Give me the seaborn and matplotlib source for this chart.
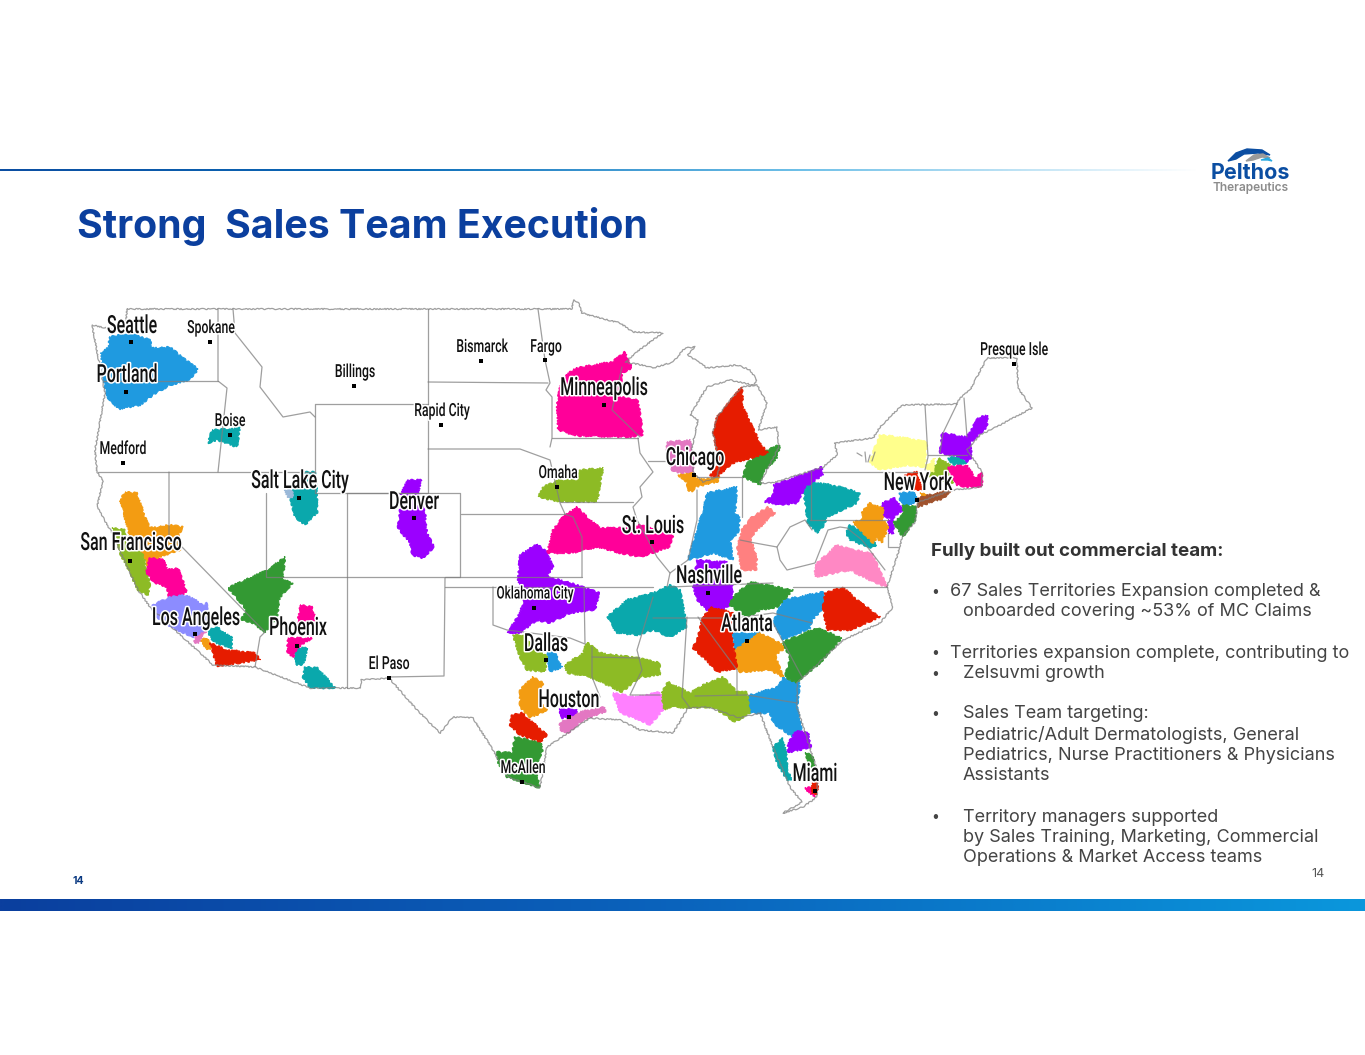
import numpy as np
import matplotlib.pyplot as plt
import matplotlib.patheffects as pe
from matplotlib.colors import LinearSegmentedColormap
from matplotlib.transforms import Affine2D
import pandas as pd
import seaborn as sns

sns.set_theme(style="white")
plt.rcParams['font.family'] = ['Inter', 'DejaVu Sans']

# CITIES
# =================================================================
city_names = ["Seattle", "Spokane", "Portland", "Medford", "Boise", "Billings", "Bismarck", "Fargo",
              "Rapid City", "Presque Isle", "Minneapolis", "Salt Lake City", "Denver", "Omaha", "Chicago",
              "San Francisco", "St. Louis", "New York", "Nashville", "Oklahoma City", "Los Angeles",
              "Phoenix", "Atlanta", "Dallas", "El Paso", "Houston", "McAllen", "Miami"]
city_x = [131, 210, 126, 123, 230, 354, 481, 545, 441, 1014, 604, 299, 414, 557, 694, 130, 652, 917, 708,
          534, 195, 297, 747, 546, 389, 569, 522, 815]
city_y = [342, 342, 392, 463, 435, 386, 361, 360, 425, 364, 405, 498, 518, 487, 475, 561, 542, 500, 593,
          608, 634, 646, 641, 660, 678, 717, 782, 791]
label_x = [132, 211, 127, 123, 230, 355, 482, 546, 442, 1014, 604, 300, 414, 558, 695, 131, 653, 918, 709,
           535, 196, 298, 747, 546, 389, 569, 523, 815]
label_y = [326, 328, 375, 449, 421, 372, 347, 347, 411, 350, 388, 481, 502, 473, 458, 543, 526, 483, 576,
           594, 618, 628, 624, 644, 664, 700, 768, 774]
big_cities = ["Seattle", "Portland", "Minneapolis", "Salt Lake City", "Denver", "Chicago", "San Francisco",
              "St. Louis", "New York", "Nashville", "Los Angeles", "Phoenix", "Atlanta", "Dallas",
              "Houston", "Miami"]

# TERRITORIES (outlines)
# =================================================================
portland = [(109,337),(130,333),(150,340),(152,348),(170,347),(183,358),(198,369),(190,380),(170,385),(153,395),(140,405),(120,409),(108,400),(104,383),(101,353),(109,347)]
boise = [(212,430),(240,428),(237,447),(217,440),(208,443)]
slc = [(303,472),(315,472),(317,493),(317,513),(305,525),(295,517),(290,497)]
slc_west = [(285,490),(292,490),(293,498),(288,498)]
denver = [(408,480),(422,480),(418,493),(425,513),(427,533),(434,547),(423,558),(412,555),(410,543),(398,528),(400,510),(407,493),(400,495)]
sacramento = [(125,492),(137,493),(145,517),(150,528),(170,525),(183,527),(177,538),(180,550),(160,557),(148,567),(142,553),(130,537),(120,500)]
san_francisco = [(112,528),(125,530),(128,543),(143,555),(150,583),(148,595),(138,590),(130,573),(120,553),(117,538)]
fresno = [(150,558),(165,560),(167,570),(178,568),(187,592),(170,602),(167,587),(153,582),(146,572)]
los_angeles = [(170,597),(187,595),(203,605),(207,603),(208,628),(193,637),(173,628),(153,615),(153,605)]
la_south = [(197,632),(207,630),(198,643),(194,642)]
orange_county = [(200,640),(207,638),(212,648),(208,650)]
inland_empire = [(207,630),(217,627),(232,638),(232,648),(213,642)]
san_diego = [(210,643),(227,650),(255,653),(260,660),(217,666),(213,653)]
las_vegas = [(285,557),(283,580),(293,583),(280,597),(277,618),(265,632),(253,623),(240,620),(247,610),(228,588),(245,580),(267,570)]
phoenix_north = [(300,605),(312,607),(317,622),(298,622)]
phoenix_south = [(288,638),(312,638),(297,648),(293,657),(287,653)]
phoenix_east = [(293,648),(308,648),(303,665),(297,665)]
tucson = [(305,667),(318,668),(335,688),(310,688),(303,677)]
minneapolis = [(577,368),(593,365),(612,362),(625,352),(632,368),(622,373),(620,397),(638,400),(643,435),(627,437),(578,436),(558,430),(557,405),(560,387),(568,373)]
omaha = [(580,470),(603,468),(597,502),(557,501),(538,497),(543,487),(560,480),(578,480)]
st_louis = [(577,507),(587,517),(600,528),(623,528),(640,525),(673,535),(670,547),(640,557),(620,553),(597,547),(573,553),(547,553),(553,530),(563,517)]
oklahoma = [(537,544),(548,553),(553,567),(547,577),(568,582),(597,592),(599,593),(595,610),(570,613),(550,623),(537,620),(520,633),(507,633),(520,613),(525,597),(518,580),(520,555)]
chicago_north = [(667,442),(690,440),(693,457),(693,472),(680,473),(672,470),(667,457)]
chicago_south = [(678,475),(693,472),(698,480),(720,477),(717,482),(695,487),(692,492),(688,490),(687,482)]
michigan = [(742,387),(743,407),(760,443),(768,453),(733,463),(717,477),(710,475),(720,463),(713,433),(717,417),(733,397)]
detroit = [(773,447),(780,445),(777,458),(763,472),(760,485),(743,477),(747,463),(760,455)]
indiana = [(707,493),(737,487),(735,513),(740,517),(738,533),(730,540),(733,560),(713,553),(688,560),(697,530),(703,510)]
cincinnati = [(768,507),(775,513),(760,527),(750,538),(757,557),(756,570),(742,570),(737,547),(742,530),(752,517)]
nashville = [(697,560),(727,562),(733,588),(732,603),(720,612),(707,610),(697,600),(693,587)]
memphis = [(607,617),(627,600),(653,593),(670,585),(680,590),(687,627),(670,637),(653,630),(637,635),(617,633)]
knoxville = [(733,597),(750,582),(777,587),(793,590),(777,607),(760,610),(747,618),(730,605)]
upstate = [(783,600),(823,592),(825,607),(812,620),(810,628),(783,640),(773,623)]
carolina_north = [(825,593),(843,587),(857,600),(880,617),(850,630),(827,630),(823,607)]
carolina_south = [(783,642),(817,628),(842,638),(820,663),(803,677),(797,683),(785,677),(790,658)]
atlanta_west = [(703,617),(712,607),(733,613),(732,637),(737,668),(717,672),(703,657),(693,648),(698,637)]
atlanta_city = [(732,633),(760,633),(735,650)]
atlanta_east = [(735,650),(760,633),(787,647),(775,655),(783,677),(770,670),(740,672),(735,663)]
dallas_west = [(513,635),(522,635),(547,657),(545,672),(527,670),(520,657)]
dallas_east = [(547,652),(555,653),(562,667),(550,672)]
shreveport = [(565,665),(583,653),(587,642),(600,653),(638,658),(660,663),(660,675),(640,677),(622,692),(590,677),(567,673)]
austin = [(533,677),(543,683),(540,702),(547,710),(530,718),(520,707),(520,690)]
san_antonio = [(512,715),(522,713),(547,735),(540,742),(520,735),(510,725)]
mcallen = [(515,737),(540,742),(543,750),(535,767),(540,788),(507,777),(498,763),(497,752),(512,753)]
houston = [(559,709),(577,709),(577,717),(562,718)]
houston_coast = [(560,723),(580,712),(605,707),(605,712),(583,720),(568,733),(560,730)]
louisiana = [(613,693),(637,697),(660,692),(663,710),(650,725),(640,720),(620,713)]
gulf = [(662,692),(668,682),(690,693),(707,683),(723,677),(737,692),(747,692),(750,713),(735,722),(713,707),(690,708),(673,707),(662,710)]
jacksonville = [(745,705),(750,695),(778,687),(783,678),(800,683),(797,707),(802,730),(793,737),(773,723),(770,713),(750,713)]
orlando = [(788,743),(797,730),(808,733),(811,747),(788,753)]
tampa = [(773,747),(783,738),(787,757),(787,770),(792,780),(787,780),(777,763)]
palm_beach = [(805,753),(812,755),(817,773),(813,773)]
miami_north = [(812,783),(818,783),(817,795),(812,793)]
miami_south = [(805,788),(813,787),(815,797),(810,793)]
ohio = [(773,485),(810,472),(822,467),(823,475),(805,487),(797,503),(780,505),(765,502),(775,493)]
pittsburgh = [(803,487),(810,481),(840,487),(860,493),(857,503),(827,517),(823,527),(817,533),(808,523)]
upstate_ny = [(880,435),(900,437),(927,442),(925,467),(907,465),(880,470),(870,463),(875,447)]
new_hampshire = [(942,433),(967,437),(978,418),(988,415),(987,427),(970,443),(972,457),(967,462),(960,457),(940,453)]
boston_north = [(948,458),(960,456),(967,463),(953,465)]
hartford = [(933,470),(940,458),(950,465),(948,473),(953,483),(927,477)]
albany = [(925,468),(935,458),(933,472)]
boston = [(948,467),(967,465),(975,478),(982,473),(982,487),(967,487),(957,485)]
hudson = [(905,475),(917,472),(922,490),(913,490)]
north_jersey = [(900,493),(915,492),(917,500),(907,507),(900,500)]
long_island = [(918,498),(952,489),(944,498),(918,507)]
westchester = [(920,493),(927,495),(922,498)]
allentown = [(882,503),(895,498),(903,510),(893,518),(883,517)]
wilmington = [(888,520),(893,520),(894,534),(889,533)]
south_jersey = [(903,505),(917,507),(915,520),(903,537),(893,523),(903,515)]
baltimore = [(862,512),(870,503),(883,508),(883,520),(888,527),(882,543),(877,538),(873,543),(853,522),(862,520)]
washington = [(850,525),(865,533),(877,545),(872,548),(850,540),(846,533)]
virginia = [(815,565),(837,545),(853,550),(872,553),(887,587),(873,582),(850,570),(815,577)]

blue = "#1f9ae0"
teal = "#0aa8ac"
purple = "#9b00ff"
orange = "#f39c12"
lime = "#8dbb25"
pink = "#ff0099"
green = "#339933"
red = "#e61c00"
orchid = "#e377c2"
territory_groups = [
    (blue, [portland, indiana, upstate, jacksonville, north_jersey, atlanta_city, dallas_east]),
    (teal, [boise, slc, inland_empire, phoenix_east, tucson, memphis, pittsburgh, washington, tampa, boston_north]),
    (purple, [denver, oklahoma, nashville, houston, orlando, ohio, new_hampshire, allentown, wilmington]),
    (orange, [sacramento, orange_county, chicago_south, atlanta_east, austin, baltimore, westchester]),
    (lime, [san_francisco, omaha, dallas_west, shreveport, gulf, hartford]),
    (pink, [fresno, phoenix_north, phoenix_south, minneapolis, st_louis, boston, miami_south]),
    (green, [las_vegas, detroit, knoxville, carolina_south, mcallen, south_jersey, palm_beach]),
    (red, [san_diego, michigan, carolina_north, atlanta_west, san_antonio, hudson, miami_north]),
    (orchid, [la_south, chicago_north, houston_coast]),
    ("#8c8cff", [los_angeles]),
    ("#ff8080", [cincinnati]),
    ("#ff80ff", [louisiana]),
    ("#ff88c4", [virginia]),
    ("#ffff8c", [upstate_ny, albany]),
    ("#a0522d", [long_island]),
    ("#9ab8d8", [slc_west]),
]

# MAP LINES
# =================================================================
national_border = [(127,309),(428,309),(572,309),(573,300),(578,302),(582,313),(600,318),(620,323),(633,332),(663,333),(643,347),(625,362),(642,365),(653,368),(673,362),(685,348),(695,347),(688,355),(707,368),(737,365),(750,370),(757,380),(753,385),(730,380),(707,387),(690,415),(698,420),(692,447),(693,472),(703,482),(717,477),(720,463),(713,433),(717,417),(733,397),(742,387),(757,385),(767,403),(758,430),(777,427),(779,447),(760,483),(773,483),(823,467),(837,455),(835,443),(873,438),(880,427),(902,405),(957,404),(960,398),(970,390),(987,358),(1017,358),(1018,388),(1032,408),(1000,425),(980,435),(967,450),(982,472),(982,487),(953,490),(918,502),(915,522),(902,537),(900,547),(887,587),(893,607),(880,623),(843,640),(797,683),(797,707),(817,770),(817,797),(803,807),(783,813),(802,802),(790,787),(773,747),(760,713),(740,718),(707,707),(688,708),(673,733),(640,730),(620,720),(590,718),(547,747),(540,788),(508,777),(493,750),(473,718),(453,717),(440,733),(417,710),(389,678),(361,680),(361,688),(310,688),(255,667),(213,665),(150,607),(138,590),(112,533),(97,507),(103,480),(97,472),(95,450),(105,393),(92,325),(125,332),(127,309)]
west_lines = [
    [(104,381),(218,381)], [(218,309),(218,381),(227,388),(218,472)],
    [(233,309),(235,333),(262,367),(260,387),(283,417),(310,412),(315,417)],
    [(315,404),(428,404),(428,493),(315,493),(315,404)], [(428,309),(428,404)],
    [(98,472),(315,472)], [(169,472),(169,535),(183,548),(265,632),(260,637),(255,667)],
    [(266,493),(266,577),(347,577)], [(347,493),(347,688)],
    [(347,493),(460,493),(460,577),(347,577)], [(445,578),(444,676),(389,677)],
]
plains_lines = [
    [(445,587),(653,587)], [(445,577),(582,577)], [(461,514),(565,514)],
    [(428,449),(520,449),(550,460),(560,503),(565,514)], [(428,382),(548,383)],
    [(538,309),(545,360),(550,383),(546,390),(552,397),(552,438),(550,447)],
    [(552,438),(638,438)], [(622,367),(612,410),(640,437)],
    [(638,438),(640,453),(653,472),(640,487),(642,497),(633,507),(637,520),(647,538),(657,557),(670,573),(667,587)],
    [(560,502),(633,502)], [(648,461),(692,461)], [(565,514),(573,517),(582,537),(582,577)],
    [(493,587),(493,625),(507,630),(570,638),(585,644),(584,587)],
]
east_lines = [
    [(697,490),(697,520),(688,560),(670,573)], [(742,477),(742,517)], [(697,477),(742,477)],
    [(670,587),(773,583)], [(793,587),(887,587)], [(592,647),(592,677),(600,697)], [(592,657),(640,658)],
    [(653,597),(637,650),(642,670),(630,695),(660,695)], [(687,617),(682,697),(690,708)],
    [(653,618),(737,618),(773,613),(812,623)], [(698,617),(737,670),(737,695)],
    [(695,696),(747,695),(797,703)], [(773,623),(802,677)],
    [(740,540),(755,543),(777,547),(790,527),(805,520),(812,530)],
    [(777,547),(780,560),(787,570),(815,563),(828,530),(840,527),(847,528),(862,540),(885,570)],
    [(810,520),(888,520)], [(811,472),(811,520)], [(823,472),(920,472)],
    [(925,405),(928,457),(925,470)], [(928,455),(967,455)], [(957,404),(943,433),(940,453)],
    [(964,398),(967,437)], [(888,533),(888,547),(898,547)],
]
finger_lakes = [[(857,453),(862,456)], [(865,452),(866,462)], [(870,455),(868,462)], [(875,452),(872,461)]]

# TEXT
# =================================================================
title_text = "Strong  Sales Team Execution"
panel_heading = "Fully built out commercial team:"
panel_lines = ["67 Sales Territories Expansion completed &", "onboarded covering ~53% of MC Claims",
               "Territories expansion complete, contributing to", "Zelsuvmi growth", "Sales Team targeting:",
               "Pediatric/Adult Dermatologists, General", "Pediatrics, Nurse Practitioners & Physicians", "Assistants",
               "Territory managers supported", "by Sales Training, Marketing, Commercial",
               "Operations & Market Access teams"]
panel_x = [950, 963, 950, 963, 963, 963, 963, 963, 963, 963, 963]
panel_y = [592, 612, 653, 674, 714, 735, 755, 776, 817, 837, 858]
bullet_y = [592, 653, 674, 714, 817]


# no condensed font installed, so the city labels get squeezed when drawn
class Squeeze(pe.AbstractPathEffect):
    def __init__(self, center, factor, halo=0):
        super().__init__()
        self.center = center
        self.factor = factor
        self.halo = halo

    def draw_path(self, renderer, gc, tpath, affine, rgbFace):
        squeezed = affine + Affine2D().translate(-self.center, 0).scale(self.factor, 1).translate(self.center, 0)
        if self.halo:
            gc0 = renderer.new_gc()
            gc0.copy_properties(gc)
            gc0.set_linewidth(self.halo)
            gc0.set_foreground("white")
            renderer.draw_path(gc0, tpath, squeezed, None)
            gc0.restore()
        else:
            renderer.draw_path(gc, tpath, squeezed, rgbFace)


# PLOT
# =================================================================
fig = plt.figure(figsize=(13.65, 10.55), dpi=100, facecolor="white")
ax = fig.add_axes([0, 0, 1, 1])

# header rule and footer band
header_cmap = LinearSegmentedColormap.from_list("hdr", ["#0b4ea2", "#0b6cb8", "#6fc0e8", "#ffffff"])
footer_cmap = LinearSegmentedColormap.from_list("ftr", ["#0b3f9e", "#0a64bd", "#0a97dc"])
ramp = np.linspace(0, 1, 512).reshape(1, -1)
ax.imshow(ramp, extent=(0, 1200, 171.5, 170), cmap=header_cmap, aspect="auto")
ax.imshow(ramp, extent=(0, 1365, 911, 899), cmap=footer_cmap, aspect="auto")

for color, polys in territory_groups:
    for poly in polys:
        xs, ys = zip(*poly)
        patch = ax.fill(xs, ys, color=color, lw=0.8, zorder=2)[0]
        patch.set_sketch_params(scale=0.9, length=5, randomness=4)

all_lines = [national_border] + west_lines + plains_lines + east_lines + finger_lakes
for i, line in enumerate(all_lines):
    xs, ys = zip(*line)
    sns.lineplot(x=list(xs), y=list(ys), sort=False, estimator=None, color="#7f7f7f", alpha=0.75,
                 linewidth=0.9, ax=ax, legend=False, zorder=3)
ax.lines[0].set_sketch_params(scale=0.6, length=5, randomness=4)

cities_df = pd.DataFrame({"city": city_names, "x": city_x, "y": city_y})
sns.scatterplot(data=cities_df, x="x", y="y", color="black", marker="s", s=9, linewidth=0, ax=ax, zorder=5,
                legend=False)

for name, lx, ly in zip(city_names, label_x, label_y):
    big = name in big_cities
    size = 18 if big else 13
    squeeze = 0.64 if big else 0.68
    if name == "Oklahoma City":
        size = 12.5
    t = ax.text(lx, ly, name, family=['Roboto', 'DejaVu Sans'], fontweight="medium", fontsize=size, ha="center",
                va="center", color="#111111", zorder=6)
    t.set_path_effects([Squeeze(lx, squeeze, halo=2.2), Squeeze(lx, squeeze)])

ax.text(77, 227, title_text, fontsize=28.3, fontweight="bold", color="#0b3f9e", va="center", ha="left")

# logo
arc_top = [(1228,161),(1236,153),(1247,149),(1262,150),(1270,155),(1258,153),(1244,154),(1236,159)]
arc_mid = [(1246,161),(1254,155),(1263,154),(1270,158),(1262,157),(1253,160)]
arc_low = [(1261,160),(1268,158),(1272,161),(1268,160)]
ax.fill(*zip(*arc_top), color="#0b4ea2", zorder=4)
ax.fill(*zip(*arc_mid), color="#9a9a9a", zorder=4)
ax.fill(*zip(*arc_low), color="#29a9e0", zorder=4)
ax.text(1250, 173, "Pelthos", fontsize=15.5, fontweight="bold", color="#0b4ea2", ha="center", va="center")
ax.text(1251, 188, "Therapeutics", fontsize=8.6, fontweight="semibold", color="#8c8c8c", ha="center", va="center")

ax.text(931, 551, panel_heading, fontsize=13.5, fontweight="bold", color="#333333", va="center")
for txt, px, py in zip(panel_lines, panel_x, panel_y):
    ax.text(px, py, txt, fontsize=13, color="#444444", va="center")
for by in bullet_y:
    ax.text(931, by, "•", fontsize=10, color="#444444", va="center")

ax.text(78, 881, "14", fontsize=7.5, fontweight="bold", color="#0b3a82", ha="center", va="center")
ax.text(1318, 874, "14", fontsize=9, color="#555555", ha="center", va="center")

ax.set_xlim(0, 1365)
ax.set_ylim(1055, 0)
ax.axis("off")
fig.savefig("out.png", dpi=100, facecolor="white")
